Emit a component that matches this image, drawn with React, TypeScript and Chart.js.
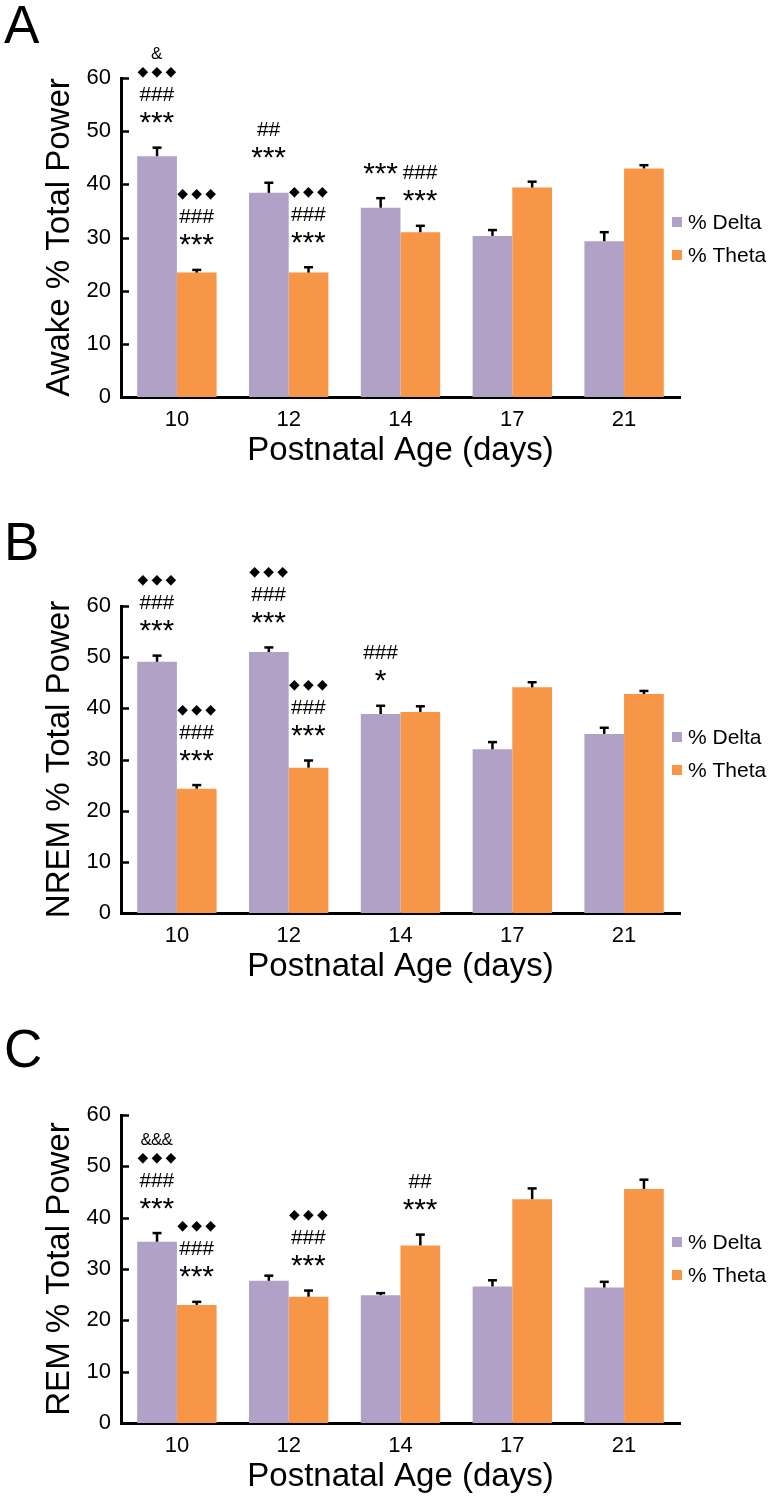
import React, { useEffect, useRef } from 'react';
import { Chart, registerables } from 'chart.js';

Chart.register(...registerables);

const FONT = "'Liberation Sans', Arial, Helvetica, sans-serif";
Chart.defaults.font.family = FONT;

// ---------- data ----------
const categories = ['10', '12', '14', '17', '21'];
const seriesLabels = ['% Delta', '% Theta'];
const yTicks = [0, 10, 20, 30, 40, 50, 60];

const awakeDelta = [45.3, 38.4, 35.6, 30.3, 29.3];
const awakeDeltaErr = [1.6, 1.9, 1.8, 1.1, 1.7];
const awakeTheta = [23.4, 23.4, 31.0, 39.4, 43.0];
const awakeThetaErr = [0.5, 1.0, 1.2, 1.1, 0.6];

const nremDelta = [49.1, 51.0, 38.9, 32.0, 35.0];
const nremDeltaErr = [1.2, 0.9, 1.6, 1.4, 1.2];
const nremTheta = [24.3, 28.4, 39.3, 44.1, 42.8];
const nremThetaErr = [0.7, 1.4, 1.1, 1.0, 0.6];

const remDelta = [35.3, 27.7, 24.9, 26.6, 26.4];
const remDeltaErr = [1.7, 1.0, 0.4, 1.2, 1.1];
const remTheta = [23.0, 24.6, 34.6, 43.6, 45.6];
const remThetaErr = [0.6, 1.2, 2.1, 2.1, 1.8];

type Mark = { cat: number; series: number; rows: string[] };

// significance marks, listed bottom row first
const awakeMarks: Mark[] = [
  { cat: 0, series: 0, rows: ['***', '###', '◆◆◆', '&'] },
  { cat: 0, series: 1, rows: ['***', '###', '◆◆◆'] },
  { cat: 1, series: 0, rows: ['***', '##'] },
  { cat: 1, series: 1, rows: ['***', '###', '◆◆◆'] },
  { cat: 2, series: 0, rows: ['***'] },
  { cat: 2, series: 1, rows: ['***', '###'] },
];
const nremMarks: Mark[] = [
  { cat: 0, series: 0, rows: ['***', '###', '◆◆◆'] },
  { cat: 0, series: 1, rows: ['***', '###', '◆◆◆'] },
  { cat: 1, series: 0, rows: ['***', '###', '◆◆◆'] },
  { cat: 1, series: 1, rows: ['***', '###', '◆◆◆'] },
  { cat: 2, series: 0, rows: ['*', '###'] },
];
const remMarks: Mark[] = [
  { cat: 0, series: 0, rows: ['***', '###', '◆◆◆', '&&&'] },
  { cat: 0, series: 1, rows: ['***', '###', '◆◆◆'] },
  { cat: 1, series: 1, rows: ['***', '###', '◆◆◆'] },
  { cat: 2, series: 1, rows: ['***', '##'] },
];

// ---------- styles ----------
const COLORS = ['#B1A1C7', '#F79646'];

type PanelCfg = {
  letter: string;
  yTitle: string;
  delta: number[];
  deltaErr: number[];
  theta: number[];
  thetaErr: number[];
  marks: Mark[];
  top: number;
  height: number;
  padTop: number;
  padBottom: number;
  letterBase: number;
  legendY: number;
};

const panels: PanelCfg[] = [
  {
    letter: 'A', yTitle: 'Awake % Total Power',
    delta: awakeDelta, deltaErr: awakeDeltaErr, theta: awakeTheta, thetaErr: awakeThetaErr,
    marks: awakeMarks, top: 0, height: 480, padTop: 78, padBottom: 9, letterBase: 43, legendY: 222,
  },
  {
    letter: 'B', yTitle: 'NREM % Total Power',
    delta: nremDelta, deltaErr: nremDeltaErr, theta: nremTheta, thetaErr: nremThetaErr,
    marks: nremMarks, top: 480, height: 510, padTop: 126, padBottom: 3, letterBase: 80, legendY: 257,
  },
  {
    letter: 'C', yTitle: 'REM % Total Power',
    delta: remDelta, deltaErr: remDeltaErr, theta: remTheta, thetaErr: remThetaErr,
    marks: remMarks, top: 990, height: 509, padTop: 125, padBottom: 2, letterBase: 77, legendY: 252,
  },
];

const glyphStyle = (ch: string) => {
  if (ch === '*') return { font: `30px ${FONT}`, pitch: 11.5 };
  if (ch === '#') return { font: `21px ${FONT}`, pitch: 11.5 };
  if (ch === '◆') return { font: `14px 'DejaVu Sans'`, pitch: 14 };
  return { font: `17px ${FONT}`, pitch: 10.5 };
};
const rowGap = (ch: string) => (ch === '*' ? 23.5 : ch === '#' ? 21.5 : 19.5);

function drawGlyph(ctx: CanvasRenderingContext2D, ch: string, cx: number, cy: number) {
  const st = glyphStyle(ch);
  ctx.font = st.font;
  ctx.textAlign = 'left';
  ctx.textBaseline = 'alphabetic';
  const m = ctx.measureText(ch);
  const x = cx - (m.actualBoundingBoxRight - m.actualBoundingBoxLeft) / 2;
  const y = cy + (m.actualBoundingBoxAscent - m.actualBoundingBoxDescent) / 2;
  ctx.fillText(ch, x, y);
}

function makePlugin(cfg: PanelCfg) {
  return {
    id: 'panelExtras' + cfg.letter,
    afterDraw(chart: any) {
      const ctx: CanvasRenderingContext2D = chart.ctx;
      const yScale = chart.scales.y;
      const area = chart.chartArea;
      ctx.save();
      ctx.fillStyle = '#000';
      ctx.strokeStyle = '#000';

      // inward y ticks
      ctx.lineWidth = 2.5;
      yTicks.forEach((v) => {
        const py = Math.round(yScale.getPixelForValue(v)) + 0.5;
        ctx.beginPath();
        ctx.moveTo(area.left, py);
        ctx.lineTo(area.left + 8, py);
        ctx.stroke();
      });

      // error bars (upper half)
      const errs = [cfg.deltaErr, cfg.thetaErr];
      const vals = [cfg.delta, cfg.theta];
      const errTop: number[][] = [[], []];
      [0, 1].forEach((s) => {
        const meta = chart.getDatasetMeta(s);
        meta.data.forEach((bar: any, j: number) => {
          const yTop = yScale.getPixelForValue(vals[s][j]);
          const yErr = yScale.getPixelForValue(vals[s][j] + errs[s][j]);
          errTop[s][j] = yErr;
          ctx.lineWidth = 2.5;
          ctx.beginPath();
          ctx.moveTo(bar.x, yTop);
          ctx.lineTo(bar.x, yErr);
          ctx.stroke();
          ctx.beginPath();
          ctx.moveTo(bar.x - 4.5, yErr);
          ctx.lineTo(bar.x + 4.5, yErr);
          ctx.stroke();
        });
      });

      // significance marks
      cfg.marks.forEach((mk) => {
        const bar = chart.getDatasetMeta(mk.series).data[mk.cat];
        let cy = errTop[mk.series][mk.cat] - 30;
        mk.rows.forEach((row, ri) => {
          if (ri > 0) cy -= rowGap(mk.rows[ri - 1][0]);
          const chars = Array.from(row);
          const pitch = glyphStyle(chars[0]).pitch;
          chars.forEach((ch, ci) => {
            const cx = bar.x + (ci - (chars.length - 1) / 2) * pitch;
            drawGlyph(ctx, ch, cx, cy);
          });
        });
      });

      // legend
      ctx.font = `21px ${FONT}`;
      ctx.textAlign = 'left';
      ctx.textBaseline = 'middle';
      seriesLabels.forEach((lab, i) => {
        const cy = cfg.legendY + i * 33;
        ctx.fillStyle = COLORS[i];
        ctx.fillRect(672, cy - 5, 10, 10);
        ctx.fillStyle = '#000';
        ctx.fillText(lab, 688, cy + 1);
      });

      // panel letter
      ctx.font = `53px ${FONT}`;
      ctx.textBaseline = 'alphabetic';
      ctx.fillText(cfg.letter, 4, cfg.letterBase);
      ctx.restore();
    },
  };
}

function Panel({ cfg }: { cfg: PanelCfg }) {
  const ref = useRef<HTMLCanvasElement>(null);
  useEffect(() => {
    const chart = new Chart(ref.current as HTMLCanvasElement, {
      type: 'bar',
      data: {
        labels: categories,
        datasets: [
          { label: seriesLabels[0], data: cfg.delta, backgroundColor: COLORS[0], borderWidth: 0 },
          { label: seriesLabels[1], data: cfg.theta, backgroundColor: COLORS[1], borderWidth: 0 },
        ],
      },
      options: {
        animation: false,
        responsive: false,
        maintainAspectRatio: false,
        layout: { padding: { top: cfg.padTop, bottom: cfg.padBottom, left: 0, right: 92 } },
        datasets: { bar: { categoryPercentage: 0.71, barPercentage: 1 } } as any,
        plugins: { legend: { display: false }, tooltip: { enabled: false } },
        scales: {
          x: {
            grid: { display: false, drawTicks: false },
            border: { display: true, color: '#000', width: 3 },
            ticks: { color: '#000', font: { size: 22 }, padding: 10 },
            title: {
              display: true,
              text: 'Postnatal Age (days)',
              color: '#000',
              font: { size: 33 },
              padding: { top: 0, bottom: 0 },
            },
            afterFit: (s: any) => {
              s.height = 74;
            },
          },
          y: {
            min: 0,
            max: 60,
            grid: { display: false, drawTicks: false },
            border: { display: true, color: '#000', width: 3 },
            ticks: { stepSize: 10, color: '#000', font: { size: 22 }, padding: 10 },
            title: {
              display: true,
              text: cfg.yTitle,
              color: '#000',
              font: { size: 33 },
              padding: { top: 40, bottom: 0 },
            },
            afterFit: (s: any) => {
              s.width = 121;
            },
          },
        },
      },
      plugins: [makePlugin(cfg)],
    } as any);
    return () => chart.destroy();
  }, [cfg]);
  return (
    <canvas
      ref={ref}
      width={772}
      height={cfg.height}
      style={{ position: 'absolute', left: 0, top: cfg.top, width: 772, height: cfg.height }}
    />
  );
}

export default function App() {
  return (
    <div style={{ position: 'absolute', left: 0, top: 0, width: 772, height: 1499, background: '#fff' }}>
      {panels.map((p) => (
        <Panel key={p.letter} cfg={p} />
      ))}
    </div>
  );
}
